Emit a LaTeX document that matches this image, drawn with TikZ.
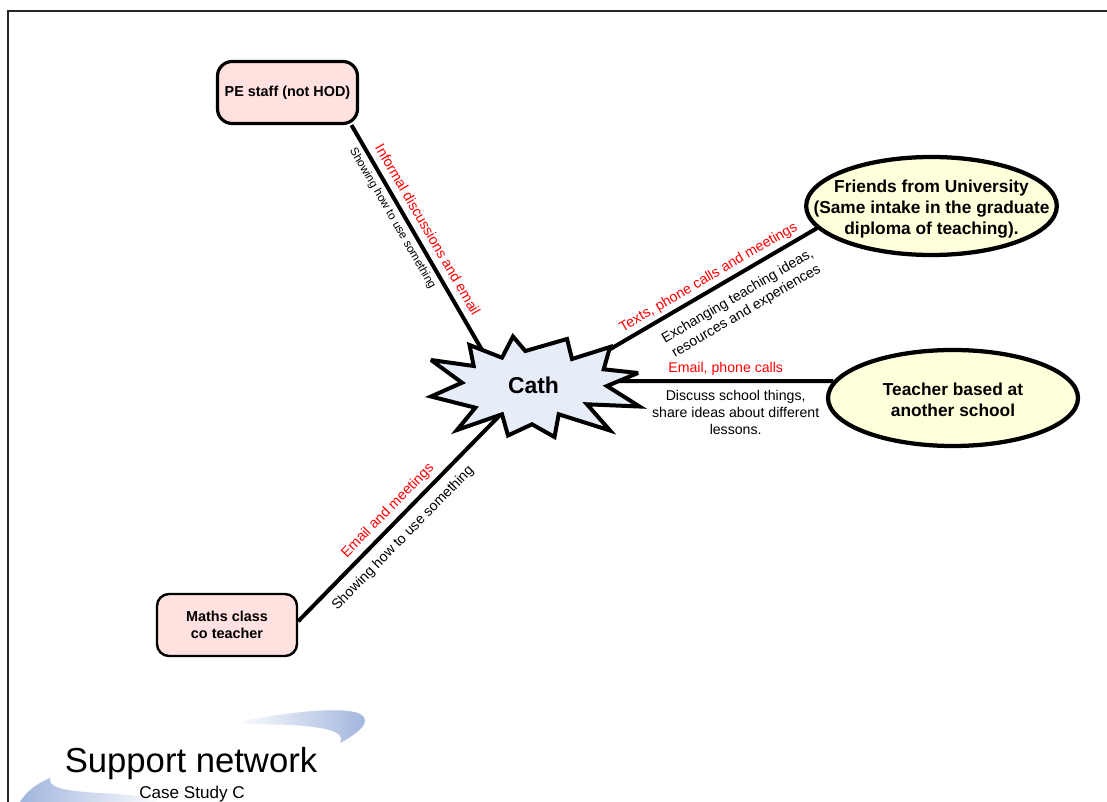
\documentclass[tikz,border=0pt]{standalone}
\usepackage{fontspec}
\setmainfont{Liberation Sans}
\usetikzlibrary{shapes.geometric,calc}
\pgfdeclarelayer{bg}
\pgfsetlayers{bg,main}
\definecolor{pinkfill}{HTML}{FFE1DF}
\definecolor{yelfill}{HTML}{FFFFDC}
\definecolor{starfill}{HTML}{E6ECF8}
\definecolor{swoosh}{HTML}{9FB3DC}
\definecolor{labred}{HTML}{FF0000}
\begin{document}
\begin{tikzpicture}[x=0.75pt,y=-0.75pt,
  conn/.style={line width=3pt},
  rbox/.style={draw, fill=pinkfill, rounded corners=11pt, line width=2.4pt,
    minimum width=105pt, minimum height=46.5pt, inner sep=0pt, align=center,
    font=\fontsize{10.8}{12.5}\selectfont\bfseries},
  oval/.style={draw, fill=yelfill, ellipse, line width=3.2pt, inner sep=0pt},
  ovaltext/.style={align=center, inner sep=0pt, font=\fontsize{13}{15.5}\selectfont\bfseries},
  redlab/.style={text=labred, inner sep=0pt, sloped, font=\fontsize{10.7}{12.8}\selectfont},
  blklab/.style={text=black, inner sep=0pt, sloped, align=center, font=\fontsize{10.6}{12.8}\selectfont},
  starshape/.style={draw, fill=starfill, line width=3pt, line join=miter, miter limit=4}
]
\useasboundingbox (0,0) rectangle (1107,802);
\clip (0,0) rectangle (1107,802);

% frame
\draw[line width=0.8pt, black!85] (8,820) -- (8,11) -- (1120,11);

% title swooshes
\shade[left color=white, right color=swoosh]
  (233,723) .. controls (290,711) and (340,707) .. (358,713)
  .. controls (370,718) and (368,728) .. (340,743)
  .. controls (346,733) and (330,727) .. (290,725)
  .. controls (265,724) and (245,724) .. (233,723) -- cycle;
\shade[left color=swoosh, right color=white]
  (18,806) .. controls (24,792) and (38,783) .. (50,778)
  .. controls (48,787) and (62,791) .. (100,793)
  .. controls (130,794) and (150,797) .. (165,806) -- cycle;

\node[anchor=base, font=\fontsize{26}{30}\selectfont] (title) at (191,772) {Support network};
\node[anchor=base, font=\fontsize{12.8}{15}\selectfont] (subtitle) at (192,798) {Case Study C};

% outer nodes
\node[rbox] (pe) at (287.5,92.5) {PE staff (not HOD)};
\node[rbox, line width=1.8pt, rounded corners=9pt] (ma) at (227,625) {Maths class\\co teacher};
\node[oval, minimum width=188pt, minimum height=73.5pt] (fr) at (931.5,206) {};
\node[ovaltext] (frt) at (931.5,209) {Friends from University\\(Same intake in the graduate\\diploma of teaching).};
\node[oval, minimum width=187.5pt, minimum height=72pt] (tb) at (953,398) {};
\node[ovaltext] (tbt) at (953,399.5) {Teacher based at\\another school};

% central star
\draw[starshape] (431,360) -- (473.7,366) -- (469.5,345) -- (502,357.7) -- (513,336.5)
  -- (525.3,351) -- (567,339) -- (572,359) -- (610,347) -- (603.7,369.3) -- (638,373)
  -- (607,386) -- (639.5,406.5) -- (587,404.3) -- (610,430.5) -- (558.7,414.3)
  -- (554.5,437) -- (532,424.3) -- (508,435.5) -- (502,414.3) -- (457,430)
  -- (475.3,407.7) -- (431,396.5) -- (462,382.7) -- cycle;
\node[inner sep=0pt, font=\fontsize{17.2}{20}\selectfont\bfseries] (cath) at (533.5,385) {Cath};

\coordinate (cPE) at ($(cath)+(-44.5,-23)$);
\coordinate (cF) at ($(cath)+(61.5,-27)$);
\coordinate (cT) at ($(cath)+(56.5,-4)$);
\coordinate (cM) at ($(cath)+(-28.5,25)$);

\begin{pgfonlayer}{bg}
\fill[white] (0,0) rectangle (1107,802);
\draw[conn] (pe.-27) --
  node[redlab, pos=.47, above=4.8pt] {Informal discussions and email}
  node[blklab, pos=.37, below=3pt, font=\fontsize{8.7}{10}\selectfont] {Showing how to use something}
  (cPE);
\draw[conn] (fr.191) --
  node[redlab, pos=.46, above=2.5pt] {Texts, phone calls and meetings}
  node[blklab, pos=.40, below=8pt] {Exchanging teaching ideas,\\resources and experiences}
  (cF);
\draw[conn] (tb.172) --
  node[redlab, pos=.442, above=2.4pt, font=\fontsize{10.6}{12}\selectfont] {Email, phone calls}
  node[blklab, pos=.401, below=5.5pt] {Discuss school things,\\share ideas about different\\lessons.}
  (cT);
\draw[conn] (ma.3) --
  node[redlab, pos=.479, above=3.3pt] {Email and meetings}
  node[blklab, pos=.449, below=6.3pt] {Showing how to use something}
  (cM);
\end{pgfonlayer}
\end{tikzpicture}
\end{document}
